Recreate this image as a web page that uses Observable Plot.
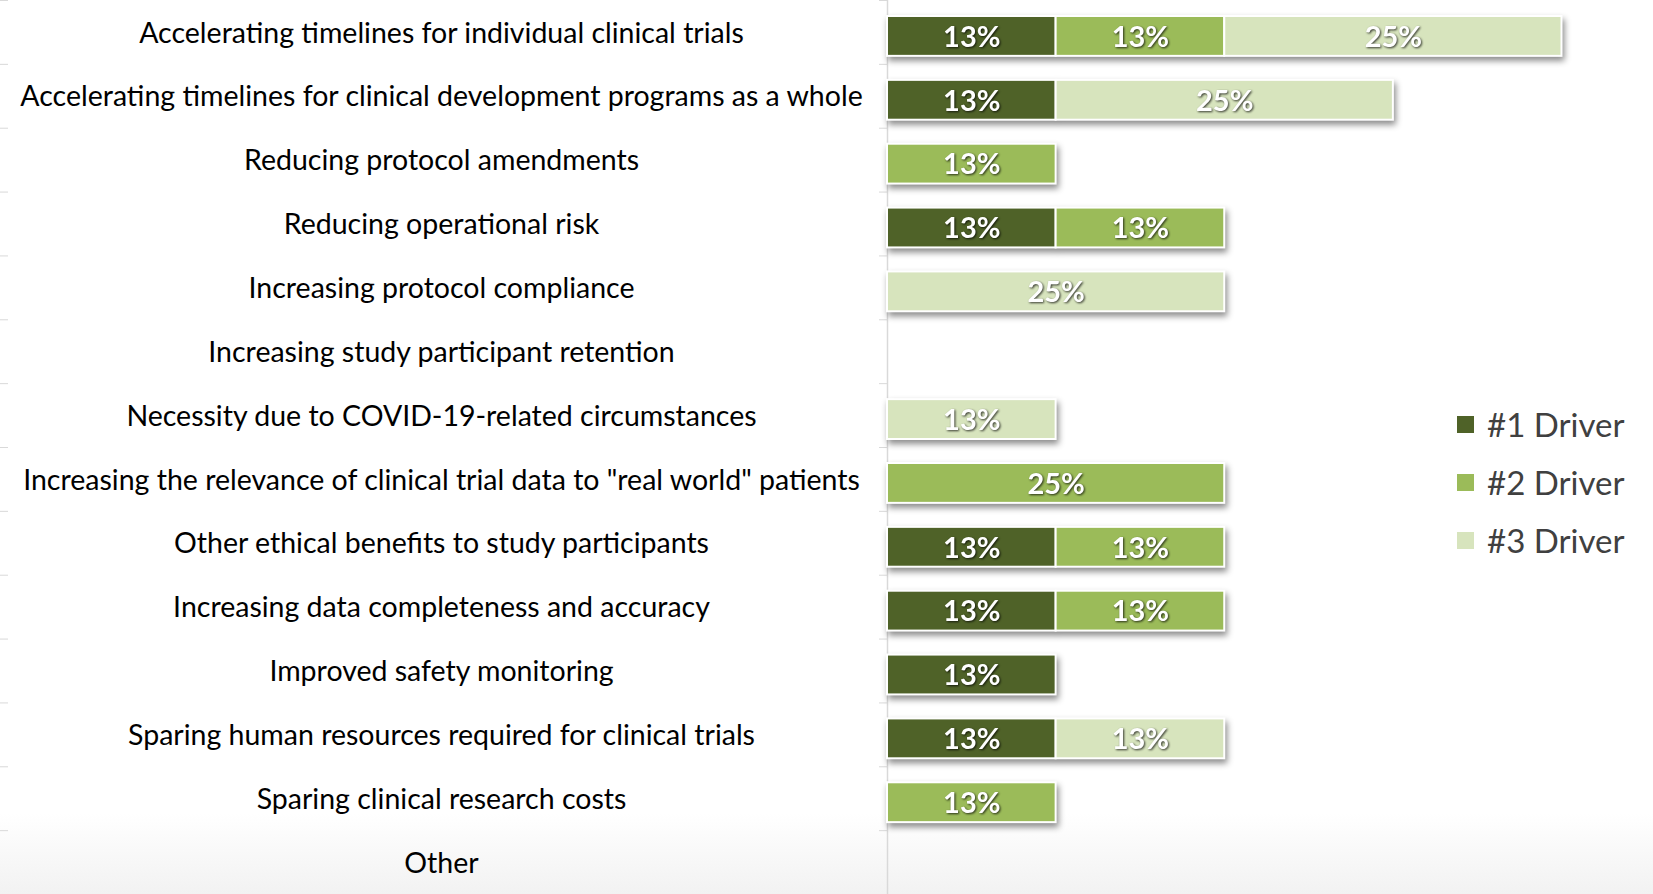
<!DOCTYPE html>
<html>
<head>
<meta charset="utf-8">
<script src="https://cdn.jsdelivr.net/npm/d3@7"></script>
<script src="https://cdn.jsdelivr.net/npm/@observablehq/plot@0.6"></script>
<style>
  html, body { margin: 0; padding: 0; background: #fff; }
  #wrap { position: relative; width: 1653px; height: 894px; overflow: hidden;
    background: linear-gradient(to bottom, #ffffff 0%, #ffffff 91%, #f2f2f2 100%); }
  #chart svg { display: block; background: transparent !important; }
  g[aria-label="bar"] { filter: drop-shadow(2px 4px 3px rgba(0,0,0,0.45)); }
  g[aria-label="text"] text { filter: drop-shadow(1px 1.5px 1px rgba(0,0,0,0.75)); }
  #legend { position: absolute; left: 1457px; top: 395px; font-family: Lato, "Open Sans", sans-serif;
    font-size: 33px; color: #404040; }
  #legend .row { display: flex; align-items: center; height: 58px; }
  #legend .sw { width: 17px; height: 17px; margin-right: 13px; }
</style>
</head>
<body>
<div id="wrap">
  <div id="chart"></div>
  <div id="legend"></div>
</div>
<script>
const categories = [
  "Accelerating timelines for individual clinical trials",
  "Accelerating timelines for clinical development programs as a whole",
  "Reducing protocol amendments",
  "Reducing operational risk",
  "Increasing protocol compliance",
  "Increasing study participant retention",
  "Necessity due to COVID-19-related circumstances",
  "Increasing the relevance of clinical trial data to \"real world\" patients",
  "Other ethical benefits to study participants",
  "Increasing data completeness and accuracy",
  "Improved safety monitoring",
  "Sparing human resources required for clinical trials",
  "Sparing clinical research costs",
  "Other"
];
const series = ["#1 Driver", "#2 Driver", "#3 Driver"];
const driver1 = [12.5, 12.5, 0, 12.5, 0, 0, 0, 0, 12.5, 12.5, 12.5, 12.5, 0, 0];
const driver2 = [12.5, 0, 12.5, 12.5, 0, 0, 0, 25, 12.5, 12.5, 0, 0, 12.5, 0];
const driver3 = [25, 25, 0, 0, 25, 0, 12.5, 0, 0, 0, 0, 12.5, 0, 0];
const colors = ["#4F6228", "#9BBB59", "#D7E4BD"];

const seriesValues = [driver1, driver2, driver3];
const data = [];
categories.forEach((c, i) => {
  series.forEach((s, j) => {
    const v = seriesValues[j][i];
    if (v > 0) data.push({category: c, driver: s, value: v});
  });
});

const W = 1653, H = 894;
const marginLeft = 887;
const step = H / categories.length;

const chart = Plot.plot({
  width: W,
  height: H,
  marginLeft: marginLeft,
  marginRight: 91.5,
  marginTop: 0,
  marginBottom: 0,
  style: {fontFamily: "Lato, 'Open Sans', sans-serif", background: "transparent", color: "#000"},
  x: {domain: [0, 50], axis: null, round: false},
  y: {domain: categories, padding: 0, axis: null, round: false, label: null},
  color: {domain: series, range: colors},
  marks: [
    Plot.ruleX([0], {stroke: "#d9d9d9", strokeWidth: 1.5}),
    Plot.axisY({anchor: "left", tickSize: 8, text: null, label: null, stroke: "#d9d9d9", dy: -step / 2}),
    Plot.axisY({anchor: "left", tickSize: 8, text: null, label: null, stroke: "#d9d9d9", dy: -step / 2, dx: -(marginLeft - 8)}),
    Plot.axisY({anchor: "left", tickSize: 0, tickPadding: 0, label: null, textAnchor: "middle", dx: 441 - marginLeft, dy: 1,
      fontSize: 28.5, fill: "#000"}),
    Plot.barX(data, Plot.stackX({x: "value", y: "category", fill: "driver", z: "driver", order: series,
      insetTop: 16, insetBottom: 8, stroke: "#fff", strokeWidth: 2})),
    Plot.text(data, Plot.stackX({x: "value", y: "category", z: "driver", order: series,
      text: d => Math.round(d.value) + "%", fill: "#fff", fontWeight: "bold", fontSize: 29, dy: 5}))
  ]
});
document.getElementById("chart").appendChild(chart);

const legend = document.getElementById("legend");
series.forEach((s, j) => {
  const row = document.createElement("div");
  row.className = "row";
  const sw = document.createElement("div");
  sw.className = "sw";
  sw.style.background = colors[j];
  const t = document.createElement("span");
  t.textContent = s;
  row.appendChild(sw);
  row.appendChild(t);
  legend.appendChild(row);
});
</script>
</body>
</html>
